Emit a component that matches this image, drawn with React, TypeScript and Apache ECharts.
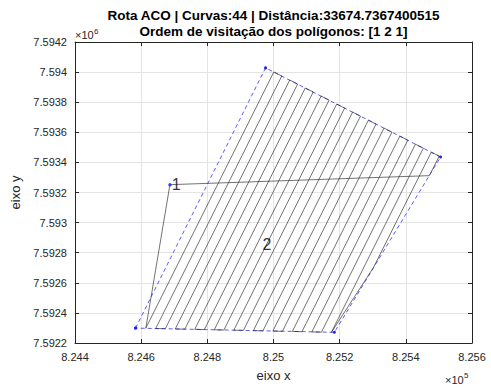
import React, { useEffect, useRef } from "react";
import * as echarts from "echarts";

// Axis ranges / ticks
const X_MIN = 824400;
const X_MAX = 825600;
const X_STEP = 200;
const Y_MIN = 7592200;
const Y_MAX = 7594200;
const Y_STEP = 200;

// Titles / labels
const TITLE_1 = "Rota ACO | Curvas:44 | Distância:33674.7367400515";
const TITLE_2 = "Ordem de visitação dos polígonos: [1 2 1]";
const X_NAME = "eixo x";
const Y_NAME = "eixo y";

// Polygon 2 outline (blue dashed)
const polyX = [824583, 824976, 825505, 825184, 824583];
const polyY = [7592299, 7594028, 7593436, 7592271, 7592299];

// Polygon 1 (a single point) and labels
const point1 = [824687, 7593252];
const label2Pos = [824980, 7592853];

// Sweep lines inside polygon 2: bottom and top endpoints
const bottomX = [824614, 824644, 824673, 824703, 824732, 824762, 824791, 824821, 824850, 824880, 824909, 824939, 824968, 824998, 825027, 825057, 825086, 825116, 825145, 825175, 825302, 825471];
const bottomY = [7592298, 7592296, 7592295, 7592293, 7592292, 7592291, 7592289, 7592288, 7592286, 7592285, 7592284, 7592282, 7592281, 7592279, 7592278, 7592277, 7592275, 7592274, 7592272, 7592271, 7592701, 7593312];
const topX = [825001, 825025, 825049, 825073, 825096, 825120, 825144, 825168, 825191, 825215, 825239, 825263, 825287, 825310, 825334, 825358, 825382, 825406, 825429, 825453, 825477, 825501];
const topY = [7594001, 7593974, 7593947, 7593921, 7593894, 7593868, 7593841, 7593814, 7593788, 7593761, 7593734, 7593708, 7593681, 7593655, 7593628, 7593601, 7593575, 7593548, 7593521, 7593495, 7593468, 7593442];

const FONT = '"Liberation Sans", Arial, Helvetica, sans-serif';
const AXIS_COLOR = "#262626";

function buildPath(): number[][] {
  const pts: number[][] = [point1];
  for (let i = 0; i < bottomX.length; i++) {
    const b = [bottomX[i], bottomY[i]];
    const t = [topX[i], topY[i]];
    if (i % 2 === 0) {
      pts.push(b, t);
    } else {
      pts.push(t, b);
    }
  }
  pts.push(point1);
  return pts;
}

export default function App() {
  const ref = useRef<HTMLDivElement>(null);

  useEffect(() => {
    document.body.style.margin = "0";
    if (!ref.current) return;
    const chart = echarts.init(ref.current, undefined, { renderer: "svg" });

    const fmtX = (v: number) => String(+(v / 1e5).toFixed(3));
    const fmtY = (v: number) => String(+(v / 1e6).toFixed(4));

    const axisLine = { show: true, onZero: false, lineStyle: { color: AXIS_COLOR, width: 1 } };
    const axisTick = { show: true, inside: true, length: 4, lineStyle: { color: AXIS_COLOR, width: 1 } };

    const option: any = {
      animation: false,
      backgroundColor: "#ffffff",
      textStyle: { fontFamily: FONT },
      grid: { left: 75, right: 19, top: 42, bottom: 41, containLabel: false },
      xAxis: [
        {
          type: "value",
          min: X_MIN,
          max: X_MAX,
          interval: X_STEP,
          position: "bottom",
          name: X_NAME,
          nameLocation: "middle",
          nameGap: 26,
          nameTextStyle: { fontSize: 13, color: AXIS_COLOR, fontFamily: FONT },
          axisLine,
          axisTick,
          axisLabel: { formatter: fmtX, fontSize: 11, color: AXIS_COLOR, margin: 8, fontFamily: FONT },
          splitLine: { show: true, lineStyle: { color: "#e4e4e4", width: 1 } },
        },
        {
          type: "value",
          min: X_MIN,
          max: X_MAX,
          interval: X_STEP,
          position: "top",
          axisLine,
          axisTick,
          axisLabel: { show: false },
          splitLine: { show: false },
        },
      ],
      yAxis: [
        {
          type: "value",
          min: Y_MIN,
          max: Y_MAX,
          interval: Y_STEP,
          position: "left",
          name: Y_NAME,
          nameLocation: "middle",
          nameGap: 42,
          nameRotate: 90,
          nameTextStyle: { fontSize: 13, color: AXIS_COLOR, fontFamily: FONT },
          axisLine,
          axisTick,
          axisLabel: { formatter: fmtY, fontSize: 11, color: AXIS_COLOR, margin: 8, fontFamily: FONT },
          splitLine: { show: true, lineStyle: { color: "#e4e4e4", width: 1 } },
        },
        {
          type: "value",
          min: Y_MIN,
          max: Y_MAX,
          interval: Y_STEP,
          position: "right",
          axisLine,
          axisTick,
          axisLabel: { show: false },
          splitLine: { show: false },
        },
      ],
      graphic: [
        {
          type: "text",
          x: 273.5,
          y: 15.5,
          style: { text: TITLE_1, fontSize: 13.5, fontWeight: "bold", fontFamily: FONT, fill: "#000", align: "center", verticalAlign: "middle" },
        },
        {
          type: "text",
          x: 273.5,
          y: 31.5,
          style: { text: TITLE_2, fontSize: 13.5, fontWeight: "bold", fontFamily: FONT, fill: "#000", align: "center", verticalAlign: "middle" },
        },
        {
          type: "text",
          x: 75,
          y: 35,
          style: { text: "×10", fontSize: 11, fontFamily: FONT, fill: AXIS_COLOR, align: "left", verticalAlign: "middle" },
        },
        {
          type: "text",
          x: 94,
          y: 31,
          style: { text: "6", fontSize: 8, fontFamily: FONT, fill: AXIS_COLOR, align: "left", verticalAlign: "middle" },
        },
        {
          type: "text",
          x: 445,
          y: 380,
          style: { text: "×10", fontSize: 11, fontFamily: FONT, fill: AXIS_COLOR, align: "left", verticalAlign: "middle" },
        },
        {
          type: "text",
          x: 464,
          y: 375,
          style: { text: "5", fontSize: 8, fontFamily: FONT, fill: AXIS_COLOR, align: "left", verticalAlign: "middle" },
        },
      ],
      series: [
        {
          type: "line",
          name: "poligono2",
          xAxisIndex: 0,
          yAxisIndex: 0,
          data: polyX.map((x, i) => [x, polyY[i]]),
          symbol: "circle",
          symbolSize: 3,
          showSymbol: true,
          itemStyle: { color: "#1f1fff" },
          lineStyle: { color: "#2f2fff", width: 0.8, type: [4, 3] },
          z: 2,
        },
        {
          type: "line",
          name: "rota",
          xAxisIndex: 0,
          yAxisIndex: 0,
          data: buildPath(),
          symbol: "none",
          lineStyle: { color: "#262626", width: 0.65 },
          z: 3,
        },
        {
          type: "scatter",
          name: "p1",
          data: [point1],
          symbol: "circle",
          symbolSize: 3.5,
          itemStyle: { color: "#1f1fff" },
          label: { show: true, formatter: "1", position: "right", distance: 0, fontSize: 16, color: "#000", fontFamily: FONT },
          z: 4,
        },
        {
          type: "scatter",
          name: "p2",
          data: [label2Pos],
          symbol: "circle",
          symbolSize: 1,
          itemStyle: { color: "rgba(0,0,0,0)" },
          label: { show: true, formatter: "2", position: "inside", fontSize: 16, color: "#000", fontFamily: FONT },
          z: 4,
        },
      ],
    };

    chart.setOption(option);
    return () => {
      chart.dispose();
    };
  }, []);

  return <div ref={ref} style={{ width: 491, height: 387 }} />;
}
